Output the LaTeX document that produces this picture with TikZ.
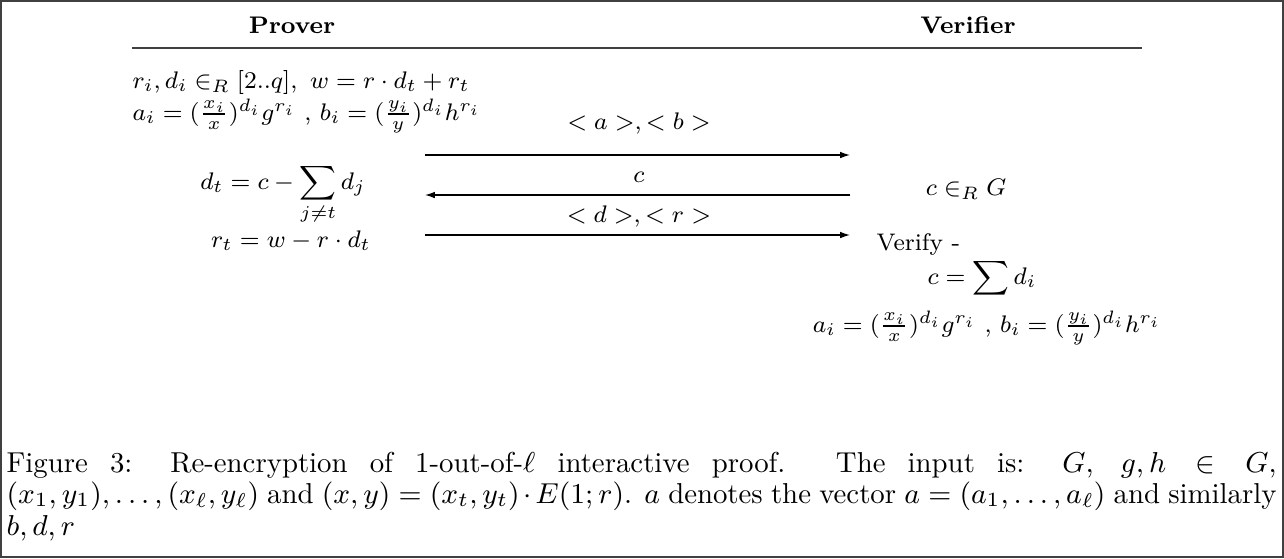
\RequirePackage{fix-cm}
\documentclass[tikz,border=0pt]{standalone}
\usepackage{amsmath,amssymb}
\usetikzlibrary{arrows.meta,positioning}

\begin{document}
\begin{tikzpicture}[x=0.3333pt,y=-0.3333pt,
  font=\footnotesize,
  msg/.style={line width=0.4pt,-{Latex[length=3.3pt,width=2.2pt]}},
  txt/.style={inner sep=0pt,anchor=base},
  lefttxt/.style={inner sep=0pt,anchor=base west}]
\useasboundingbox (0,0) rectangle (1284,558);
\draw[line width=0.6pt,black!75] (1,1) rectangle (1283,557);

% parties
\node[txt] (prover) at (292,33) {\textbf{Prover}};
\node[txt] (verifier) at (968,33) {\textbf{Verifier}};
\draw[line width=0.6pt,black!75] (132,48) coordinate (ruleL) -- (1142,48) coordinate (ruleR);

% prover side
\node[lefttxt] (choose) at (132,88) {$r_i, d_i \in_R [2..q],\ w = r\cdot d_t + r_t$};
\node[lefttxt] (commitP) at (132,120) {$a_i = (\frac{x_i}{x})^{d_i}g^{r_i}$ , $b_i = (\frac{y_i}{y})^{d_i}h^{r_i}$};
\node[txt] (dt) at (283,189) {$\displaystyle d_t = c - \sum_{j\neq t} d_j$};
\node[txt] (rt) at (291,247) {$r_t = w - r\cdot d_t$};

% messages
\coordinate (m1s) at (425,155);
\coordinate (m1e) at (850,155);
\coordinate (m2s) at (850,195);
\coordinate (m2e) at (425,195);
\coordinate (m3s) at (425,235);
\coordinate (m3e) at (850,235);
\draw[msg] (m1s) -- (m1e);
\draw[msg] (m2s) -- (m2e);
\draw[msg] (m3s) -- (m3e);
\node[txt] (ab) at (639,129) {$<a>,<b>$};
\node[txt] (chal) at (639,182) {$c$};
\node[txt] (dr) at (639,222) {$<d>,<r>$};

% verifier side
\node[txt] (cG) at (966,195) {$c \in_R G$};
\node[lefttxt] (verify) at (876,250) {Verify -};
\node[txt] (csum) at (982,284) {$\displaystyle c = \sum d_i$};
\node[txt] (commitV) at (987,332) {$a_i = (\frac{x_i}{x})^{d_i}g^{r_i}$ , $b_i = (\frac{y_i}{y})^{d_i}h^{r_i}$};

% caption
\node[lefttxt,text width=423.3pt,align=justify,font=\fontsize{9.6}{10.5}\selectfont] (caption) at (6,472)
  {Figure 3: Re-encryption of 1-out-of-$\ell$ interactive proof. The input is: $G,\ g,h\in G$,\linebreak $(x_1,y_1),\ldots,(x_\ell,y_\ell)$ and $(x,y) = (x_t,y_t)\cdot E(1;r)$. $a$ denotes the vector $a=(a_1,\ldots,a_\ell)$ and similarly $b,d,r$};
\end{tikzpicture}
\end{document}
